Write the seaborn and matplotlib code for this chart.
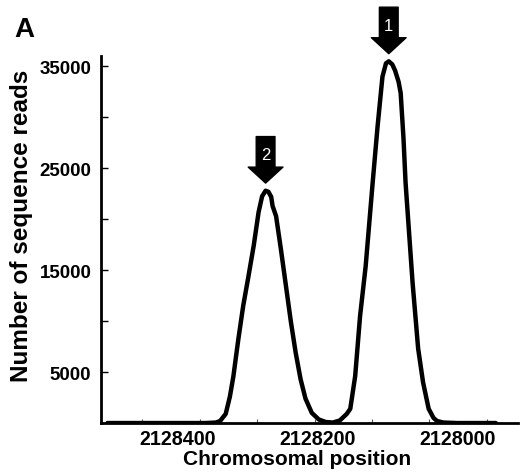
import numpy as np
import pandas as pd
import matplotlib
matplotlib.use("Agg")
import matplotlib.pyplot as plt
from matplotlib.ticker import FixedLocator
import seaborn as sns

# ── Data (position, number of reads) ─────────────────────────────────────────
positions = [
    2128500, 2128420, 2128360, 2128345, 2128339, 2128331, 2128325, 2128320,
    2128313, 2128306, 2128299, 2128291, 2128284, 2128279, 2128274, 2128270,
    2128266, 2128264, 2128259, 2128252, 2128245, 2128238, 2128231, 2128224,
    2128217, 2128208, 2128198, 2128188, 2128178, 2128168, 2128158, 2128153,
    2128146, 2128139, 2128131, 2128121, 2128114, 2128107, 2128102, 2128098,
    2128093, 2128089, 2128084, 2128081, 2128077, 2128074, 2128064, 2128056,
    2128049, 2128041, 2128034, 2128029, 2128020, 2128000, 2127945,
]
reads = [
    0, 0, 0, 50, 200, 900, 2600, 4600,
    8200, 11500, 14200, 17400, 20700, 22250, 22800, 22700,
    22200, 21300, 20300, 17000, 13500, 10000, 6900, 4300,
    2400, 1000, 350, 100, 50, 250, 900, 1400,
    4600, 10500, 15400, 23600, 29100, 34000, 35300, 35500,
    35200, 34600, 33500, 32400, 28000, 23600, 13800, 7300,
    4000, 1400, 500, 200, 50, 0, 0,
]
peak_labels = ["2", "1"]          # left peak, right peak
split_pos = 2128200               # boundary between the two peaks

y_major = [5000, 15000, 25000, 35000]
y_minor = [10000, 20000, 30000]
x_labels = [2128400, 2128200, 2128000]
x_minor = [2128450, 2128368, 2128286, 2128204, 2128122, 2128040, 2127958]

df = pd.DataFrame({"position": positions, "reads": reads})

sns.set_style("ticks")
plt.rcParams["font.family"] = ["Liberation Sans", "DejaVu Sans"]
plt.rcParams["text.color"] = "black"

fig = plt.figure(figsize=(5.24, 4.77), dpi=100)
ax = fig.add_axes([0.193, 0.111, 0.796, 0.769])

sns.lineplot(data=df, x="position", y="reads", color="black", lw=3.2,
             ax=ax, solid_joinstyle="round", solid_capstyle="round")

ax.set_xlim(2128509, 2127913)
ax.set_ylim(0, 36000)
sns.despine(ax=ax)
for s in ("left", "bottom"):
    ax.spines[s].set_linewidth(2)
    ax.spines[s].set_color("black")

ax.set_yticks(y_major)
ax.set_yticklabels([str(v) for v in y_major], fontsize=13.5, fontweight="bold")
ax.yaxis.set_minor_locator(FixedLocator(y_minor))
ax.tick_params(axis="y", which="both", direction="in", length=5, width=1,
               pad=7, colors="black")

ax.set_xticks(x_labels)
ax.set_xticklabels([str(v) for v in x_labels], fontsize=14.2, fontweight="bold")
ax.xaxis.set_minor_locator(FixedLocator(x_minor))
ax.tick_params(axis="x", which="major", length=0, pad=4, colors="black")
ax.tick_params(axis="x", which="minor", direction="in", length=3, width=0.8,
               colors="#555555")

ax.set_ylabel("Number of sequence reads", fontsize=17.5, fontweight="bold",
              color="black")
ax.yaxis.set_label_coords(-0.163, 0.54)
ax.set_xlabel("Chromosomal position", fontsize=15, fontweight="bold",
              color="black")
ax.xaxis.set_label_coords(0.47, -0.072)

# arrows above each peak
pos = np.array(positions)
val = np.array(reads)
for label, mask in zip(peak_labels, [pos > split_pos, pos <= split_pos]):
    i = np.argmax(val[mask])
    px, py = pos[mask][i], val[mask][i]
    ax.annotate("", xy=(px, py), xytext=(0, 39), textcoords="offset points",
                annotation_clip=False,
                arrowprops=dict(arrowstyle="simple,head_length=1.15,head_width=2.5,tail_width=1.35",
                                fc="black", ec="black", shrinkA=0, shrinkB=5.5,
                                mutation_scale=10))
    ax.annotate(label, xy=(px, py), xytext=(0, 26), textcoords="offset points",
                ha="center", va="center", color="white", fontsize=12,
                annotation_clip=False)

fig.text(0.027, 0.922, "A", fontsize=20, fontweight="bold", ha="left",
         va="baseline")

fig.savefig("out.png", dpi=100)
